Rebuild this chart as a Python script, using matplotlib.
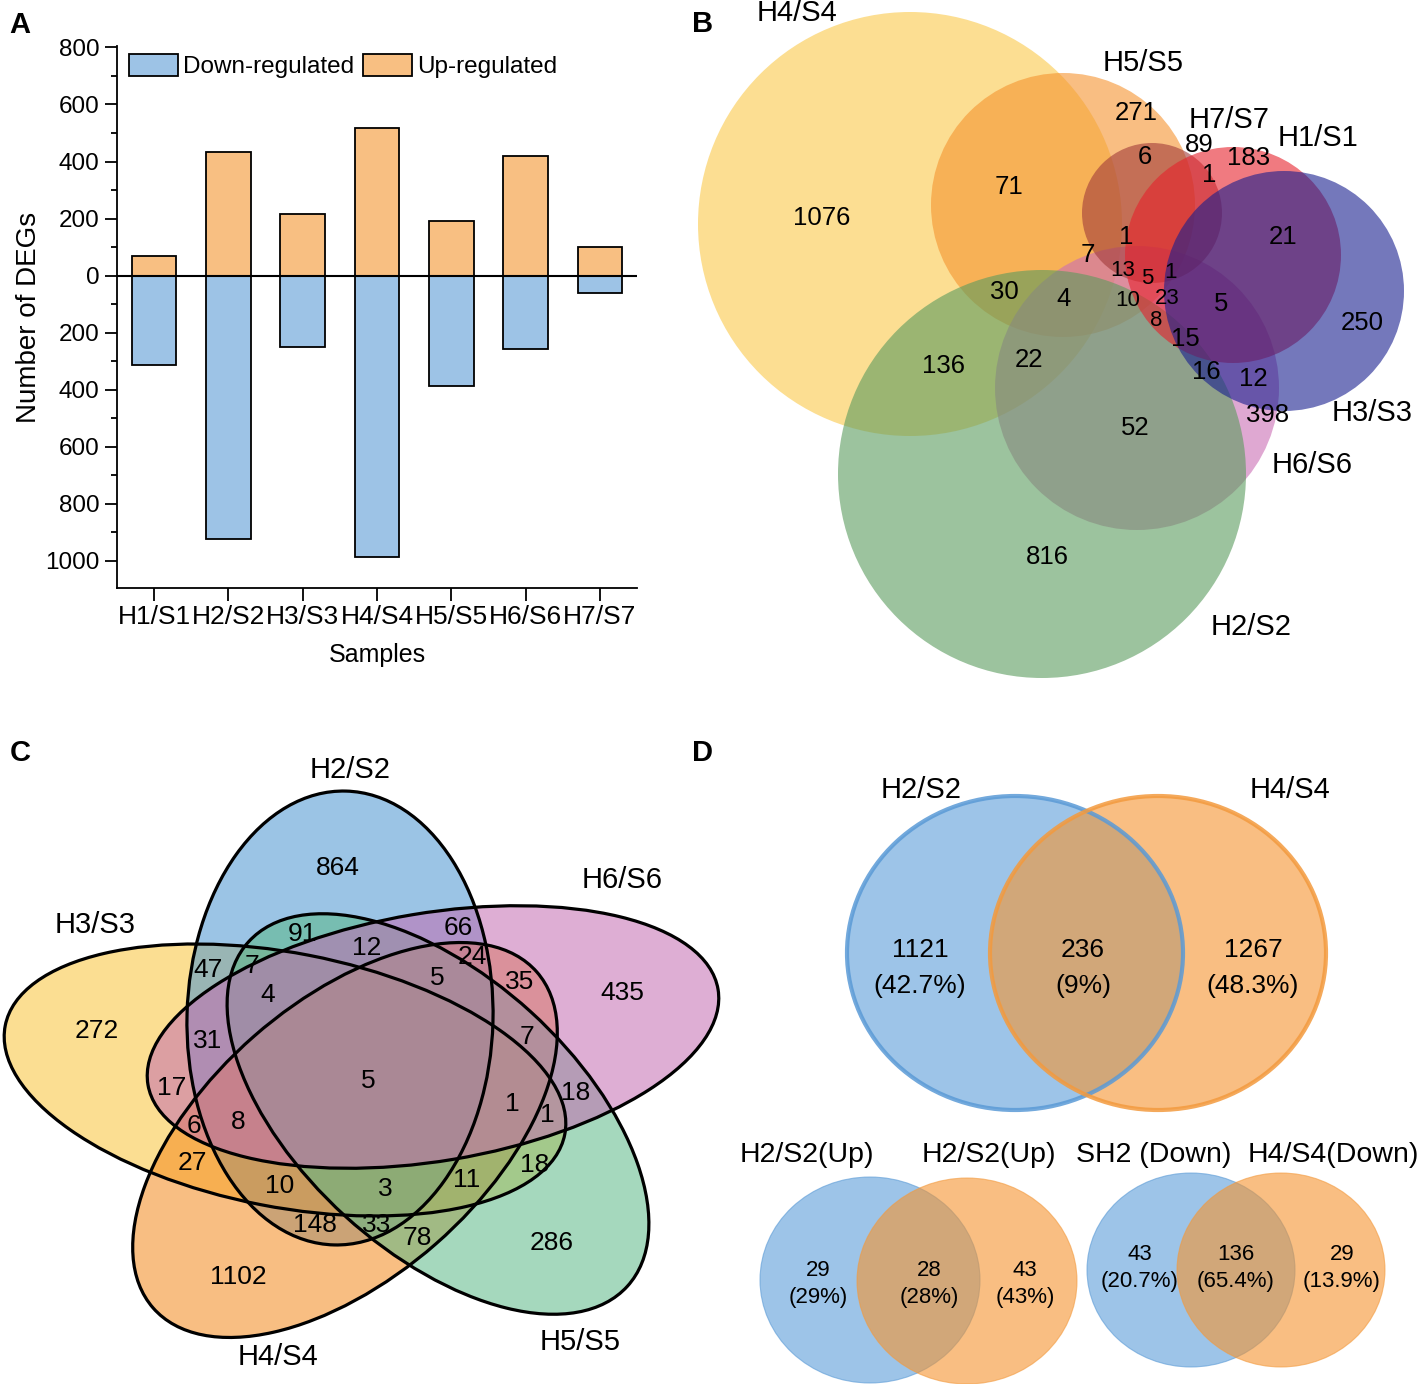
import numpy as np
import matplotlib
matplotlib.use('Agg')
import matplotlib.pyplot as plt
from matplotlib.patches import Ellipse

plt.rcParams['font.family'] = ['Liberation Sans', 'DejaVu Sans']

# ---------------- data ----------------
# A: DEG counts per comparison
samples = ['H1/S1', 'H2/S2', 'H3/S3', 'H4/S4', 'H5/S5', 'H6/S6', 'H7/S7']
up_regulated = [68, 435, 217, 517, 192, 420, 102]
down_regulated = [312, 923, 249, 986, 386, 257, 60]

# B: seven-set circle venn, region counts
b_sets = ['H4/S4', 'H5/S5', 'H6/S6', 'H2/S2', 'H7/S7', 'H1/S1', 'H3/S3']
b_counts = [1076, 71, 271, 6, 89, 183, 1, 21, 250, 1, 7, 13, 5, 1,
            30, 4, 10, 23, 8, 5, 15, 16, 12, 136, 22, 52, 398, 816]

# C: five-set ellipse venn, region counts
c_sets = ['H3/S3', 'H2/S2', 'H4/S4', 'H5/S5', 'H6/S6']
c_counts = [864, 91, 66, 12, 24, 47, 7, 5, 35, 435, 272, 4, 31, 7, 5, 17,
            18, 1, 1, 6, 8, 27, 18, 10, 3, 11, 148, 33, 78, 286, 1102]

# D: two-set venns (only / shared / only)
d_sets = ['H2/S2', 'H4/S4']
d_counts = [1121, 236, 1267]
up_sets = ['H2/S2(Up)', 'H2/S2(Up)']
up_counts = [29, 28, 43]
down_sets = ['SH2 (Down)', 'H4/S4(Down)']
down_counts = [43, 136, 29]

# ---------------- layout (pixels, y down) ----------------
W, H = 1418, 1384
blue_bar, orange_bar = '#9DC3E6', '#F8BF82'

b_circles = [(910, 224, 212), (1063, 205, 132), (1137, 388, 142), (1042, 474, 204),
             (1152, 213, 70), (1233, 255, 108), (1284, 291, 120)]
b_colors = ['#FAC949', '#F5932F', '#CB6EB4', '#5A9B5D', '#A13B3A', '#E6212B', '#171E8F']
b_label_xy = [(797, 13), (1143, 63), (1312, 465), (1251, 627), (1229, 120), (1318, 138), (1372, 413)]
b_text_xy = [(822, 218), (1009, 187), (1136, 113), (1145, 157), (1199, 145), (1249, 158),
             (1209, 175), (1283, 237), (1362, 323), (1126, 237), (1088, 255), (1123, 271),
             (1147, 278), (1170, 272), (1004, 292), (1064, 299), (1128, 300), (1167, 298),
             (1156, 320), (1221, 304), (1185, 339), (1206, 372), (1253, 379), (943, 366),
             (1029, 360), (1135, 428), (1268, 415), (1047, 557)]
b_crowded = {11, 12, 13, 16, 17, 18}   # tight cluster in the middle, drawn a bit smaller

# ellipse centre x, y, width, height, angle (y-down axes)
c_ellipses = [(285, 1080, 570, 254, 11), (340, 1018, 306, 454, 1.5),
              (345, 1140, 510, 276, -41.2), (438, 1114, 512, 276, 42.3),
              (433, 1037, 578, 248, -9.5)]
c_colors = ['#F9C339', '#4994D1', '#F4891C', '#5BB887', '#C36CB1']
c_label_xy = [(95, 925), (350, 770), (278, 1357), (580, 1342), (622, 880)]
c_text_xy = [(338, 868), (302, 934), (458, 928), (367, 948), (472, 957), (208, 970), (252, 966),
             (437, 978), (520, 982), (622, 993), (97, 1031), (268, 995), (208, 1041), (527, 1037),
             (368, 1081), (172, 1088), (576, 1093), (512, 1104), (547, 1115), (194, 1126),
             (238, 1122), (192, 1163), (535, 1165), (280, 1186), (385, 1189), (467, 1180),
             (315, 1225), (377, 1225), (417, 1238), (552, 1243), (238, 1277)]

d_big = [(1015, 953), (1158, 953)]
d_big_r = (168, 157)
d_up = [(870, 1280), (967, 1281)]
d_down = [(1191, 1270), (1281, 1270)]
d_small_r = [(110, 103), (104, 97)]
d_fill = ['#5C9ED9', '#F5942F']
d_edge = ['#5A9AD6', '#F39A3E']


def pct(v, tot):
    s = f'{100 * v / tot:.1f}'
    if s.endswith('.0'):
        s = s[:-2]
    return f'({s}%)'


fig = plt.figure(figsize=(W / 100, H / 100), dpi=100)

# ---------------- venn canvas ----------------
av = fig.add_axes([0, 0, 1, 1])
av.set_xlim(0, W)
av.set_ylim(H, 0)
av.axis('off')

# B
for (cx, cy, r), col in zip(b_circles, b_colors):
    av.add_patch(Ellipse((cx, cy), 2 * r, 2 * r, facecolor=col, alpha=0.6, edgecolor='none'))
for name, (x, y) in zip(b_sets, b_label_xy):
    av.text(x, y, name, fontsize=21, ha='center', va='center')
for i, (n, (x, y)) in enumerate(zip(b_counts, b_text_xy)):
    fs = 16 if i in b_crowded else 18.5
    av.text(x, y, str(n), fontsize=fs, ha='center', va='center')

# C
for (cx, cy, w, h, a), col in zip(c_ellipses, c_colors):
    av.add_patch(Ellipse((cx, cy), w, h, angle=a, facecolor=col, alpha=0.55, edgecolor='none'))
for (cx, cy, w, h, a) in c_ellipses:
    av.add_patch(Ellipse((cx, cy), w, h, angle=a, fill=False, edgecolor='black', lw=2.3))
for name, (x, y) in zip(c_sets, c_label_xy):
    av.text(x, y, name, fontsize=21, ha='center', va='center')
for n, (x, y) in zip(c_counts, c_text_xy):
    av.text(x, y, str(n), fontsize=19, ha='center', va='center')

# D big
tot = sum(d_counts)
for (cx, cy), fc in zip(d_big, d_fill):
    av.add_patch(Ellipse((cx, cy), 2 * d_big_r[0], 2 * d_big_r[1], facecolor=fc, alpha=0.6, edgecolor='none'))
for (cx, cy), ec in zip(d_big, d_edge):
    av.add_patch(Ellipse((cx, cy), 2 * d_big_r[0], 2 * d_big_r[1], fill=False, edgecolor=ec, lw=3, alpha=0.85))
big_x = [920, 1083, 1253]
for n, x in zip(d_counts, big_x):
    av.text(x, 950, str(n), fontsize=19, ha='center', va='center')
    av.text(x, 986, pct(n, tot), fontsize=19, ha='center', va='center')
for name, x in zip(d_sets, [921, 1290]):
    av.text(x, 790, name, fontsize=21, ha='center', va='center')

# D small
small = [(d_up, d_small_r[0], up_counts, up_sets, [818, 929, 1025], 1271, [807, 989]),
         (d_down, d_small_r[1], down_counts, down_sets, [1140, 1236, 1342], 1254, [1154, 1333])]
for centres, (rx, ry), counts, names, xs, ytxt, xlab in small:
    for (cx, cy), fc, ec in zip(centres, d_fill, d_edge):
        av.add_patch(Ellipse((cx, cy), 2 * rx, 2 * ry, facecolor=fc, alpha=0.6, edgecolor=ec, lw=0.8))
    t = sum(counts)
    for n, x in zip(counts, xs):
        av.text(x, ytxt, str(n), fontsize=16, ha='center', va='center')
        av.text(x, ytxt + 27, pct(n, t), fontsize=16, ha='center', va='center')
    for name, x in zip(names, xlab):
        av.text(x, 1155, name, fontsize=20.5, ha='center', va='center')

for lab, (x, y) in zip('ABCD', [(20, 25), (703, 24), (20, 753), (703, 753)]):
    av.text(x, y, lab, fontsize=21, fontweight='bold', ha='center', va='center')

# ---------------- A: bar chart ----------------
ax = fig.add_axes([117 / W, 1 - 588 / H, 520 / W, 542 / H])
x = np.arange(len(samples))
ax.bar(x, [-v for v in down_regulated], width=0.6, color=blue_bar, edgecolor='black',
       linewidth=1.3, label='Down-regulated')
ax.bar(x, up_regulated, width=0.6, color=orange_bar, edgecolor='black',
       linewidth=1.3, label='Up-regulated')
ax.axhline(0, color='black', lw=1.5)
ax.set_xlim(-0.5, 6.5)
ax.set_ylim(-1095, 805)
yt = np.arange(-1000, 801, 200)
ax.set_yticks(yt)
ax.set_yticklabels([str(abs(v)) for v in yt])
ax.set_yticks(np.arange(-1000, 801, 100), minor=True)
ax.set_xticks(x)
ax.set_xticklabels(samples)
for s in ['top', 'right']:
    ax.spines[s].set_visible(False)
for s in ['left', 'bottom']:
    ax.spines[s].set_linewidth(1.3)
ax.tick_params(axis='y', which='major', direction='out', length=9, width=1.3, labelsize=17.5)
ax.tick_params(axis='y', which='minor', direction='out', length=4.5, width=1.3)
ax.tick_params(axis='x', direction='out', length=9, width=1.3, labelsize=19, pad=3)
ax.set_ylabel('Number of DEGs', fontsize=20, labelpad=2)
ax.set_xlabel('Samples', fontsize=18, labelpad=10)
ax.legend(loc='upper left', ncol=2, frameon=False, fontsize=17.5, handlelength=2.0,
          handleheight=1.0, handletextpad=0.2, columnspacing=0.4,
          borderaxespad=0.1, bbox_to_anchor=(0.0, 1.008))

fig.savefig('out.png', dpi=100)
